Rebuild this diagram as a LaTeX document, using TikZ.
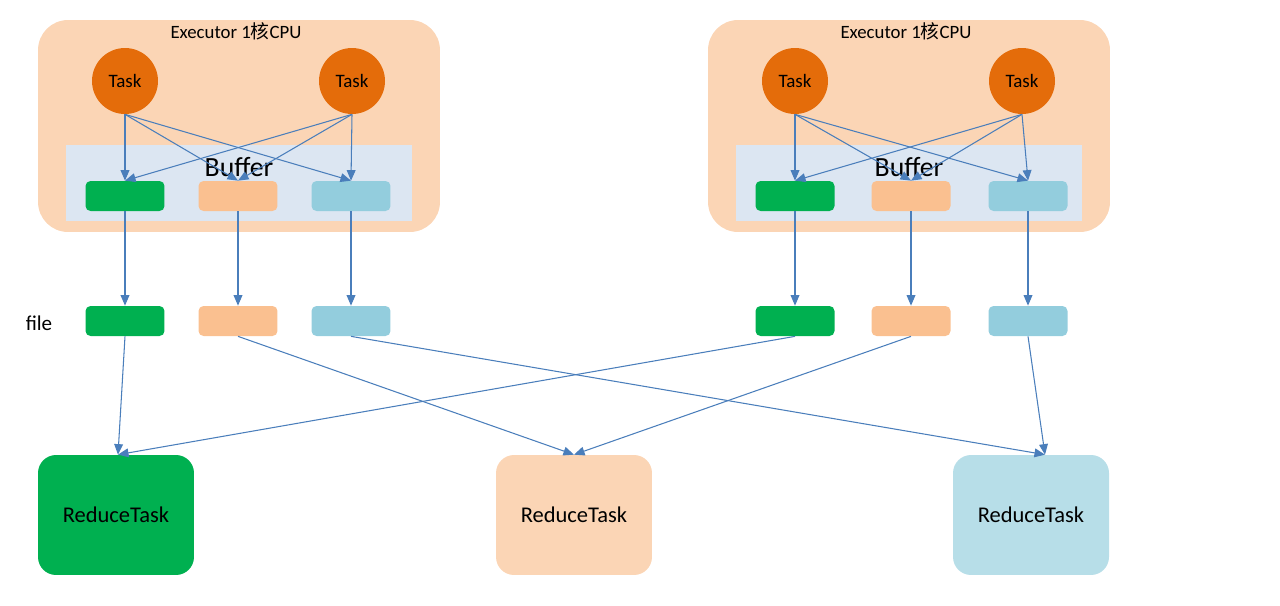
\documentclass[tikz,border=0pt]{standalone}
\usepackage{fontspec}
\setmainfont{Carlito}
\newfontfamily\cjk{Noto Sans CJK SC}
\usetikzlibrary{arrows.meta,positioning}

\definecolor{peach}{HTML}{FBD5B5}
\definecolor{taskorange}{HTML}{E46C0A}
\definecolor{bufferblue}{HTML}{DCE6F2}
\definecolor{partgreen}{HTML}{00B050}
\definecolor{partorange}{HTML}{FAC090}
\definecolor{partblue}{HTML}{93CDDD}
\definecolor{reduceblue}{HTML}{B7DEE8}
\definecolor{linkblue}{HTML}{4A7EBB}

\begin{document}
\begin{tikzpicture}[x=0.02cm,y=-0.02cm,
  exec/.style={rectangle,rounded corners=0.6cm,fill=peach,minimum width=8.04cm,minimum height=4.24cm},
  task/.style={circle,fill=taskorange,minimum size=1.32cm,inner sep=0pt,font=\fontsize{10.8}{13}\selectfont},
  buffer/.style={rectangle,fill=bufferblue,minimum width=6.94cm,minimum height=1.52cm},
  part/.style={rectangle,rounded corners=0.1cm,minimum width=1.58cm,minimum height=0.6cm,inner sep=0pt},
  reduce/.style={rectangle,rounded corners=0.36cm,minimum width=3.12cm,minimum height=2.4cm,font=\fontsize{12.8}{15}\selectfont},
  flow/.style={draw=linkblue,line width=0.6pt,-{Triangle[length=6pt,width=5pt]}}]
\useasboundingbox (0,0) rectangle (1280,605);

% Executors with tasks and buffer
\foreach \s/\x/\xa/\xb/\xc in {L/239/125/238/351, R/909/795/911/1028} {
  \node[exec] (exec\s) at (\x,126) {};
  \node[font=\fontsize{10.7}{13}\selectfont] (title\s) at (\x-3,31) {Executor 1{\cjk 核}CPU};
  \node[buffer] (buf\s) at (\x,183) {};
  \node[font=\fontsize{15.8}{19}\selectfont] (buflabel\s) at (\x,167) {Buffer};
  \node[task] (task\s1) at (\x-114,81) {Task};
  \node[task] (task\s2) at (\x+113,81) {Task};
  \node[part,fill=partgreen] (bp\s1) at (\xa,196) {};
  \node[part,fill=partorange] (bp\s2) at (\xb,196) {};
  \node[part,fill=partblue] (bp\s3) at (\xc,196) {};
  % spill files
  \node[part,fill=partgreen] (fp\s1) at (\xa,321) {};
  \node[part,fill=partorange] (fp\s2) at (\xb,321) {};
  \node[part,fill=partblue] (fp\s3) at (\xc,321) {};
}
\node[font=\fontsize{12}{14}\selectfont] (filelabel) at (39,323) {file};

% Reduce side
\node[reduce,fill=partgreen] (red1) at (116,515) {ReduceTask};
\node[reduce,fill=peach] (red2) at (574,515) {ReduceTask};
\node[reduce,fill=reduceblue] (red3) at (1031,515) {ReduceTask};

% Connectors
\foreach \s in {L,R} {
  \foreach \t in {1,2}
    \foreach \p in {1,2,3}
      \draw[flow] (task\s\t.south) -- (bp\s\p.north);
  \foreach \p in {1,2,3}
    \draw[flow] (bp\s\p.south) -- (fp\s\p.north);
}
\draw[flow] (fpL1.south) -- ([xshift=0.04cm]red1.north);
\draw[flow] (fpR1.south) -- ([xshift=0.04cm]red1.north);
\draw[flow] (fpL2.south) -- (red2.north);
\draw[flow] (fpR2.south) -- (red2.north);
\draw[flow] (fpL3.south) -- ([xshift=0.28cm]red3.north);
\draw[flow] (fpR3.south) -- ([xshift=0.28cm]red3.north);
\end{tikzpicture}
\end{document}
